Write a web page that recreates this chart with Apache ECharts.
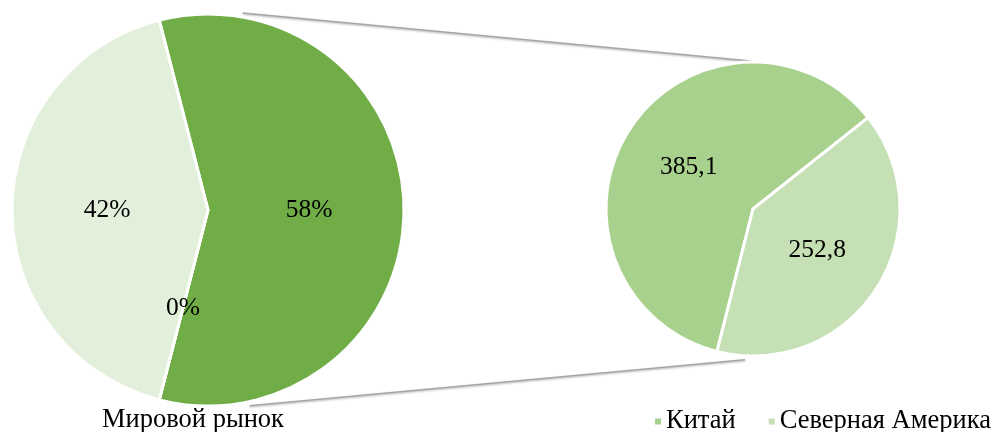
<!DOCTYPE html>
<html>
<head>
<meta charset="utf-8">
<script src="https://cdn.jsdelivr.net/npm/echarts@6/dist/echarts.min.js"></script>
<style>html,body{margin:0;padding:0;background:#fff;}#c{width:994px;height:432px;}</style>
</head>
<body>
<div id="c"></div>
<script>
// Data
const mainNames = ['Прочие', 'Нулевой', 'Мировой рынок'];
const mainValues = [58, 0, 42];
const subNames = ['Китай', 'Северная Америка'];
const subValues = [385.1, 252.8];
const legendTitle = 'Мировой рынок';

// Geometry / styles
const FONT = "'Liberation Serif', 'Times New Roman', serif";
const L = { cx: 208, cy: 210, r: 196 };
const R = { cx: 753, cy: 209, r: 147 };
const mainColors = ['#70ad47', '#ffffff', '#e2efda'];
const subColors = ['#a9d18e', '#c5e0b4'];

const chart = echarts.init(document.getElementById('c'), null, { renderer: 'canvas' });

function pt(c, ang, rr) {
  const a = ang * Math.PI / 180;
  return [c.cx + Math.cos(a) * rr, c.cy - Math.sin(a) * rr];
}
const lt = pt(L, 80, L.r + 4), rt = pt(R, 91, R.r + 1);
const lb = pt(L, -78, L.r + 4), rb = pt(R, -93, R.r + 4);

const mainStart = mainValues[0] / 100 * 180;
const subStart = -104.2;

chart.setOption({
  animation: false,
  title: {
    text: legendTitle, left: 97, top: 402,
    textStyle: { fontFamily: FONT, fontSize: 26.5, fontWeight: 'normal', color: '#000' }
  },
  legend: {
    data: subNames, left: 653, top: 408, padding: 0, icon: 'rect', itemWidth: 8, itemHeight: 8, itemGap: 31,
    textStyle: { fontFamily: FONT, fontSize: 26.5, color: '#000', padding: [2, 0, 0, -1] }
  },
  graphic: [
    { type: 'line', shape: { x1: lt[0], y1: lt[1], x2: rt[0], y2: rt[1] },
      style: { stroke: '#a6a6a6', lineWidth: 1.5, shadowColor: 'rgba(0,0,0,0.3)', shadowBlur: 2, shadowOffsetY: 1 } },
    { type: 'line', shape: { x1: lb[0], y1: lb[1], x2: rb[0], y2: rb[1] },
      style: { stroke: '#a6a6a6', lineWidth: 1.5, shadowColor: 'rgba(0,0,0,0.3)', shadowBlur: 2, shadowOffsetY: 1 } }
  ],
  series: [
    {
      type: 'pie', center: [L.cx, L.cy], radius: L.r, startAngle: mainStart, clockwise: true,
      avoidLabelOverlap: false, minShowLabelAngle: -1,
      label: { show: true, position: 'inside', fontFamily: FONT, fontSize: 25.5, color: '#000',
        formatter: p => p.value + '%' },
      labelLine: { show: false },
      itemStyle: { borderColor: '#fff', borderWidth: 3 },
      emphasis: { disabled: true },
      data: mainNames.map((n, i) => ({ name: n, value: mainValues[i], itemStyle: { color: mainColors[i] } }))
    },
    {
      type: 'pie', center: [R.cx, R.cy], radius: R.r, startAngle: subStart, clockwise: true,
      avoidLabelOverlap: false,
      label: { show: true, position: 'inside', fontFamily: FONT, fontSize: 25.5, color: '#000',
        formatter: p => String(p.value).replace('.', ',') },
      labelLine: { show: false },
      itemStyle: { borderColor: '#fff', borderWidth: 3 },
      emphasis: { disabled: true },
      data: subNames.map((n, i) => ({ name: n, value: subValues[i], itemStyle: { color: subColors[i] } }))
    }
  ]
});
</script>
</body>
</html>
